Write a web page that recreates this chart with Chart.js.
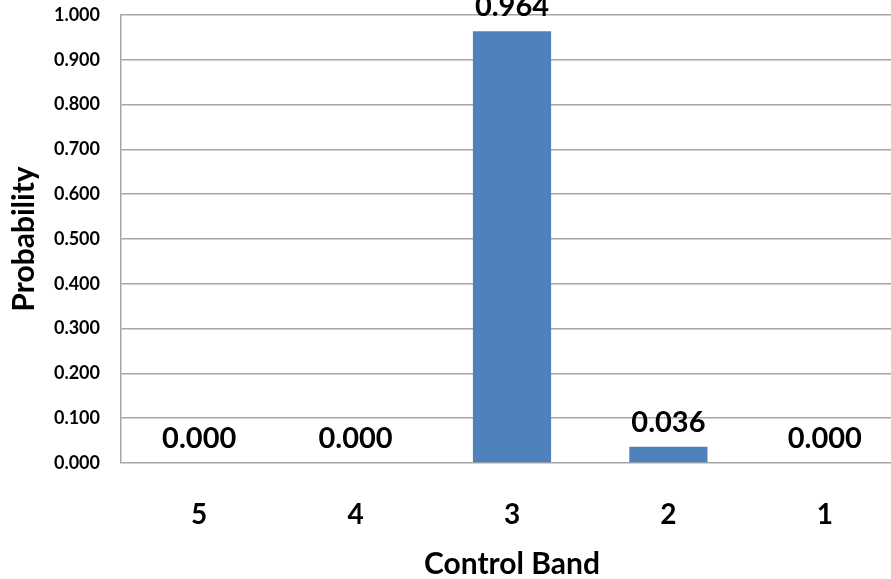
<!DOCTYPE html>
<html>
<head>
<meta charset="utf-8">
<script src="https://cdn.jsdelivr.net/npm/chart.js@4/dist/chart.umd.min.js"></script>
<style>
  html, body { margin: 0; padding: 0; background: #ffffff; overflow: hidden; }
  #wrap { position: relative; width: 891px; height: 579px; overflow: hidden; }
  canvas { display: block; }
</style>
</head>
<body>
<div id="wrap"><canvas id="chart" width="903" height="579"></canvas></div>
<script>
const bands = ['5', '4', '3', '2', '1'];
const probability = [0.000, 0.000, 0.964, 0.036, 0.000];
const yTicks = [0, 0.1, 0.2, 0.3, 0.4, 0.5, 0.6, 0.7, 0.8, 0.9, 1.0];

const FONT = 'Lato, "Open Sans", sans-serif';
const GRID = '#a6a6a6';

// Writes each bar's value (3 decimals) just above the bar top
const valueLabels = {
  id: 'valueLabels',
  afterDatasetsDraw(chart) {
    const { ctx } = chart;
    const meta = chart.getDatasetMeta(0);
    ctx.save();
    ctx.font = 'bold 29px ' + FONT;
    ctx.fillStyle = '#000000';
    ctx.textAlign = 'center';
    ctx.textBaseline = 'alphabetic';
    meta.data.forEach((bar, i) => {
      ctx.fillText(probability[i].toFixed(3), bar.x, bar.y - 15);
    });
    ctx.restore();
  }
};

new Chart(document.getElementById('chart'), {
  type: 'bar',
  data: {
    labels: bands,
    datasets: [{
      data: probability,
      backgroundColor: '#4f81bd',
      borderWidth: 0,
      barPercentage: 0.5,
      categoryPercentage: 1.0
    }]
  },
  options: {
    responsive: false,
    devicePixelRatio: 1,
    animation: false,
    events: [],
    layout: { padding: { top: 15, left: 0, right: 0, bottom: 0 } },
    plugins: {
      legend: { display: false },
      tooltip: { enabled: false }
    },
    scales: {
      x: {
        grid: { display: false, drawTicks: false },
        border: { display: false },
        ticks: {
          color: '#000000',
          font: { family: FONT, size: 28, weight: 'bold' },
          padding: 35
        },
        title: {
          display: true,
          text: 'Control Band',
          color: '#000000',
          font: { family: FONT, size: 30, weight: 'bold', lineHeight: 1 },
          padding: { top: 0, bottom: 0 }
        },
        afterFit(scale) {
          scale.height = 116;
          scale.paddingLeft = 0;
          scale.paddingRight = 0;
        }
      },
      y: {
        min: 0,
        max: 1,
        afterBuildTicks(scale) { scale.ticks = yTicks.map(v => ({ value: v })); },
        grid: { color: GRID, lineWidth: 1.5, drawTicks: false },
        border: { display: true, color: GRID, width: 1.5 },
        ticks: {
          color: '#000000',
          font: { family: FONT, size: 18, weight: 'bold' },
          padding: 21,
          callback: (v) => Number(v).toFixed(3)
        },
        title: {
          display: true,
          text: 'Probability',
          color: '#000000',
          font: { family: FONT, size: 30, weight: 'bold', lineHeight: 1 },
          padding: { top: 9, bottom: 0 }
        },
        afterFit(scale) {
          scale.width = 121;
          scale.paddingTop = 0;
          scale.paddingBottom = 0;
        }
      }
    }
  },
  plugins: [valueLabels]
});
</script>
</body>
</html>
